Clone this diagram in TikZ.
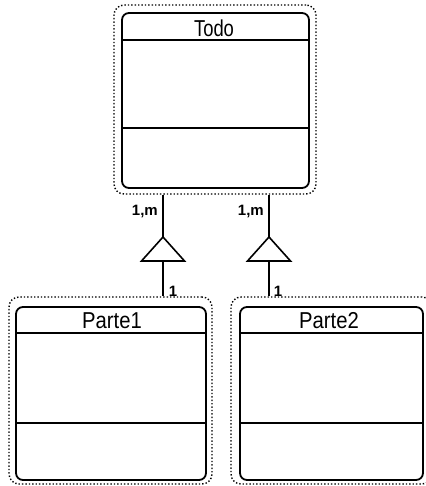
\documentclass[tikz,border=0pt]{standalone}
\usepackage{fontspec}
\setmainfont{Liberation Sans}
\begin{document}
\begin{tikzpicture}[x=1pt,y=-1pt,
  outerbox/.style={draw, dotted, line width=1.4pt, rounded corners=10pt, inner sep=0pt},
  innerbox/.style={draw, line width=1.8pt, rounded corners=7pt, inner sep=0pt},
  sep/.style={line width=1.6pt},
  conn/.style={line width=1.6pt},
  tri/.style={line width=1.6pt, line join=miter},
  title/.style={font=\fontsize{23}{23}\selectfont, inner sep=0pt},
  mult/.style={font=\fontsize{15}{15}\selectfont\bfseries, inner sep=0pt}
]
\useasboundingbox (0,0) rectangle (425,486);
\fill[white] (0,0) rectangle (425,486);

% Todo
\node[outerbox, minimum width=202pt, minimum height=189pt] (todoO) at (215,99.5) {};
\node[innerbox, minimum width=187pt, minimum height=175pt] (todo) at (215.5,100.5) {};
\draw[sep] (todo.west |- 0,40) -- (todo.east |- 0,40);
\draw[sep] (todo.west |- 0,128) -- (todo.east |- 0,128);
\node[title, xscale=0.8] (todoT) at (214,28) {Todo};

% Parte1
\node[outerbox, minimum width=203pt, minimum height=187pt] (p1O) at (110.5,390.5) {};
\node[innerbox, minimum width=190pt, minimum height=173pt] (p1) at (111,393.5) {};
\draw[sep] (p1.west |- 0,333) -- (p1.east |- 0,333);
\draw[sep] (p1.west |- 0,423) -- (p1.east |- 0,423);
\node[title, xscale=0.88] (p1T) at (112,320.5) {Parte1};

% Parte2
\node[outerbox, minimum width=201pt, minimum height=187pt] (p2O) at (331.5,390.5) {};
\node[innerbox, minimum width=183pt, minimum height=173pt] (p2) at (331.5,393.5) {};
\draw[sep] (p2.west |- 0,333) -- (p2.east |- 0,333);
\draw[sep] (p2.west |- 0,423) -- (p2.east |- 0,423);
\node[title, xscale=0.88] (p2T) at (329,320.5) {Parte2};

% left aggregation
\coordinate (a1) at (163,237);
\coordinate (b1) at (163,261);
\draw[tri] (a1) -- ++(-21.5,24) -- ++(43,0) -- cycle;
\draw[conn] (a1 |- todoO.south) -- (a1);
\draw[conn] (b1) -- (b1 |- p1O.north);
\node[mult, anchor=east] (m1) at (158,212) {1,m};
\node[mult] (o1) at (173,291) {1};

% right aggregation
\coordinate (a2) at (269,237);
\coordinate (b2) at (269,261);
\draw[tri] (a2) -- ++(-21.5,24) -- ++(43,0) -- cycle;
\draw[conn] (a2 |- todoO.south) -- (a2);
\draw[conn] (b2) -- (b2 |- p2O.north);
\node[mult, anchor=east] (m2) at (264,211) {1,m};
\node[mult] (o2) at (278,291) {1};
\end{tikzpicture}
\end{document}
